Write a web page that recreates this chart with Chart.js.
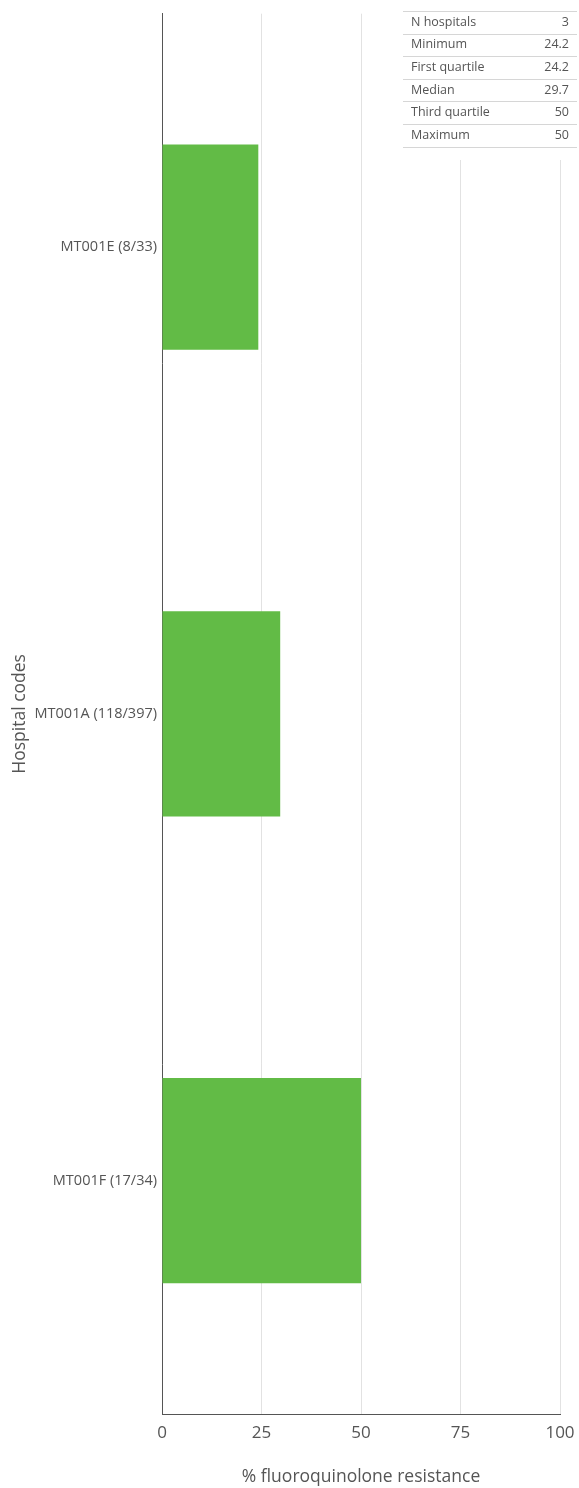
<!DOCTYPE html>
<html>
<head>
<meta charset="utf-8">
<script src="https://cdn.jsdelivr.net/npm/chart.js@4/dist/chart.umd.min.js"></script>
<style>
  html, body { margin: 0; padding: 0; background: #fff; }
  canvas { display: block; }
</style>
</head>
<body>
<canvas id="myChart" width="579" height="1488"></canvas>
<script>
'use strict';

const hospitals = ['MT001E (8/33)', 'MT001A (118/397)', 'MT001F (17/34)'];
const resistance = [24.2, 29.7, 50];
const xTicks = [0, 25, 50, 75, 100];

const statLabels = ['N hospitals', 'Minimum', 'First quartile', 'Median', 'Third quartile', 'Maximum'];
const statValues = ['3', '24.2', '24.2', '29.7', '50', '50'];

const FONT = "'Open Sans', 'Noto Sans', sans-serif";
const TEXT = '#555';

// summary table in the top right corner
const statsTable = {
  id: 'statsTable',
  afterDraw(chart) {
    const ctx = chart.ctx;
    const x0 = 403, x1 = 577, top = 11, rowH = 22.6;
    ctx.save();
    ctx.fillStyle = '#fff';
    ctx.fillRect(x0, 0, x1 - x0, 160);
    ctx.font = '12.5px ' + FONT;
    ctx.textBaseline = 'middle';
    ctx.strokeStyle = '#d6d6d6';
    ctx.lineWidth = 1;
    for (let i = 0; i <= statLabels.length; i++) {
      const y = Math.round(top + i * rowH) + 0.5;
      ctx.beginPath();
      ctx.moveTo(x0, y);
      ctx.lineTo(x1, y);
      ctx.stroke();
    }
    ctx.fillStyle = TEXT;
    statLabels.forEach((lab, i) => {
      const y = top + i * rowH + rowH / 2;
      ctx.textAlign = 'left';
      ctx.fillText(lab, 411, y);
      ctx.textAlign = 'right';
      ctx.fillText(statValues[i], 569, y);
    });
    ctx.restore();
  }
};

const ctx = document.getElementById('myChart');
const myChart = new Chart(ctx, {
  type: 'bar',
  data: {
    labels: hospitals,
    datasets: [{
      data: resistance,
      backgroundColor: '#62bb46',
      barPercentage: 0.88,
      categoryPercentage: 0.5,
    }]
  },
  options: {
    indexAxis: 'y',
    responsive: false,
    animation: false,
    devicePixelRatio: 1,
    layout: { padding: { top: 11, right: 19, left: 0, bottom: 0 } },
    plugins: {
      legend: { display: false },
      tooltip: { enabled: false },
    },
    scales: {
      x: {
        min: 0,
        max: 100,
        afterBuildTicks(scale) {
          scale.ticks = xTicks.map(v => ({ value: v }));
        },
        afterFit(scale) {
          scale.height = 74;
          // let the "100" label hang into the right margin
          scale.paddingRight = 0;
          scale.paddingLeft = 0;
        },
        grid: { color: '#e2e2e2', drawTicks: false, lineWidth: 1 },
        border: { color: '#555', width: 1 },
        ticks: { color: TEXT, padding: 9, maxRotation: 0, font: { family: FONT, size: 17 } },
        title: {
          display: true,
          text: '% fluoroquinolone resistance',
          color: TEXT,
          font: { family: FONT, size: 17.5 },
          padding: { top: 0, bottom: 0 },
        },
      },
      y: {
        afterFit(scale) { scale.width = 162; },
        grid: { display: false, drawTicks: false },
        border: { color: '#555', width: 1 },
        ticks: { color: TEXT, padding: 5, font: { family: FONT, size: 14.5 } },
        title: {
          display: true,
          text: 'Hospital codes',
          color: TEXT,
          font: { family: FONT, size: 17.5 },
          padding: { top: 10, bottom: 0 },
        },
      },
    },
  },
  plugins: [statsTable],
});
</script>
</body>
</html>
